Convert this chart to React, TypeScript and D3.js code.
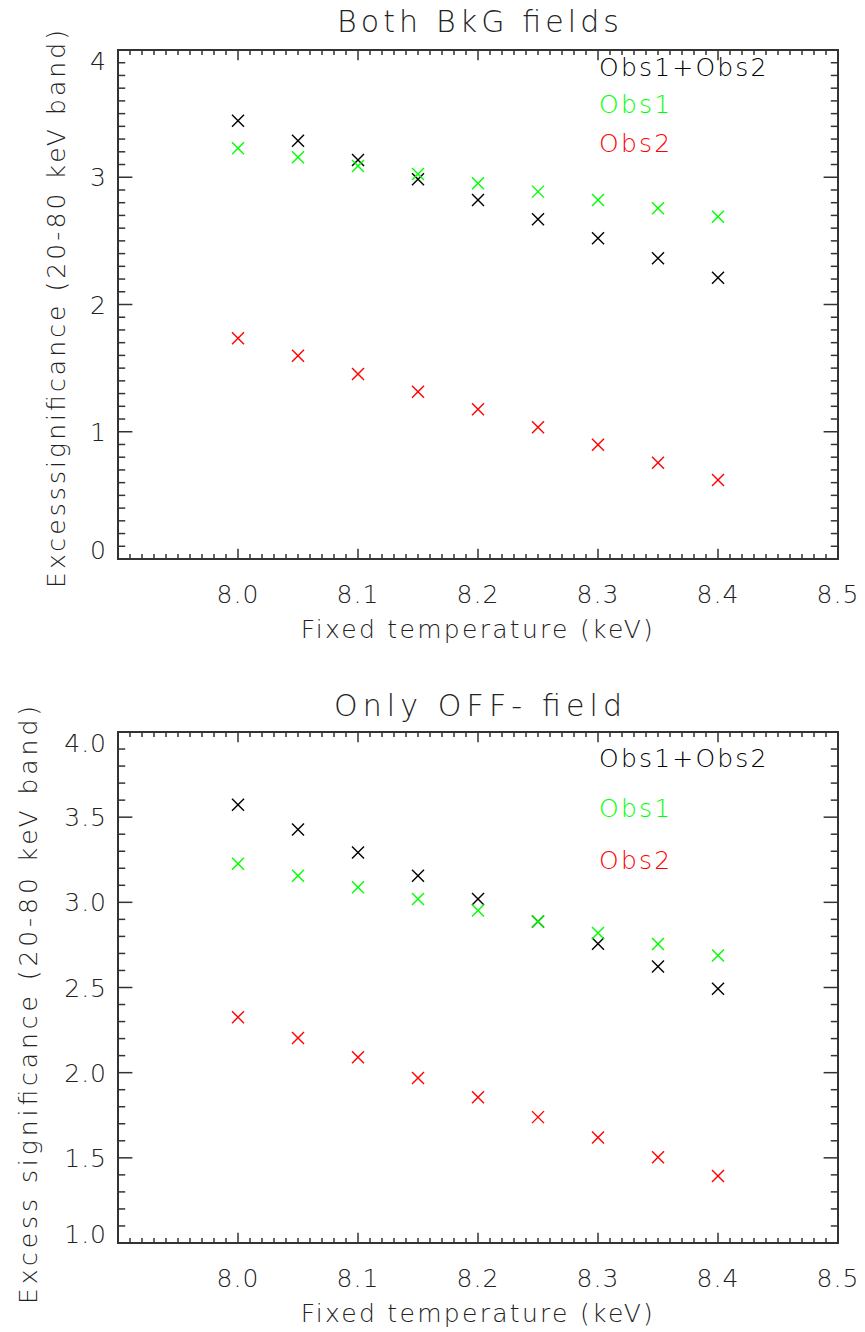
import React from "react";
import * as d3 from "d3";

// Fixed temperatures (keV)
const temps = [8.0, 8.05, 8.1, 8.15, 8.2, 8.25, 8.3, 8.35, 8.4];

// Panel 1: both background fields
const bothSum = [3.444, 3.287, 3.136, 2.984, 2.821, 2.67, 2.52, 2.363, 2.211];
const bothObs1 = [3.227, 3.157, 3.088, 3.026, 2.952, 2.887, 2.821, 2.756, 2.69];
const bothObs2 = [1.734, 1.598, 1.454, 1.315, 1.176, 1.035, 0.898, 0.757, 0.621];

// Panel 2: only OFF- field
const offSum = [3.573, 3.427, 3.293, 3.156, 3.019, 2.888, 2.757, 2.623, 2.492];
const offObs1 = [3.227, 3.156, 3.088, 3.019, 2.952, 2.888, 2.82, 2.755, 2.688];
const offObs2 = [2.326, 2.203, 2.091, 1.968, 1.856, 1.739, 1.619, 1.504, 1.394];

const seriesNames = ["Obs1+Obs2", "Obs1", "Obs2"];
const seriesColors = ["#000000", "#00ff00", "#ff0000"];

const xTicks = [8.0, 8.1, 8.2, 8.3, 8.4, 8.5];
const topYTicks = [0, 1, 2, 3, 4];
const botYTicks = [1.0, 1.5, 2.0, 2.5, 3.0, 3.5, 4.0];

const FONT = "'DejaVu Sans', sans-serif";
const AXIS = "#333";
const TXT = "#222";

interface PanelProps {
  top: number;
  bottom: number;
  title: string;
  titleY: number;
  titleLen: number;
  yTitle: string;
  yTitleX: number;
  yTitleY: number;
  yTitleLen: number;
  yDomain: [number, number];
  yTicks: number[];
  yMinor: number;
  yFmt: (v: number) => string;
  series: number[][];
  legendY: number[];
}

function Panel(p: PanelProps) {
  const left = 118;
  const right = 838;
  const x = d3.scaleLinear().domain([7.9, 8.5]).range([left, right]);
  const y = d3.scaleLinear().domain(p.yDomain).range([p.bottom, p.top]);
  const h = p.bottom - p.top;
  const w = right - left;
  const xMajLen = 0.02 * h;
  const yMajLen = 0.02 * w;

  const xMinor = d3.range(7.9, 8.5 + 1e-9, 0.01);
  const yMinorTicks = d3.range(p.yDomain[0], p.yDomain[1] + 1e-9, p.yMinor);
  const isMajor = (v: number, arr: number[]) => arr.some((t) => Math.abs(t - v) < 1e-6);
  const xMaj = d3.range(7.9, 8.5 + 1e-9, 0.1);

  const ms = 6;
  const cx = (left + right) / 2;

  return (
    <g>
      <text x={cx} y={p.titleY} textAnchor="middle" fontFamily={FONT} fontWeight={200}
        fontSize={30} textLength={p.titleLen} lengthAdjust="spacing" fill={TXT}>{p.title}</text>

      {/* frame */}
      <rect x={left} y={p.top} width={w} height={h} fill="none" stroke={AXIS} strokeWidth={2} />

      {/* x ticks bottom + top */}
      {xMinor.map((v, i) => {
        const len = isMajor(v, xMaj) ? xMajLen : xMajLen / 2;
        const px = x(v);
        return (
          <g key={"xt" + i} stroke={AXIS} strokeWidth={1.5}>
            <line x1={px} x2={px} y1={p.bottom} y2={p.bottom - len} />
            <line x1={px} x2={px} y1={p.top} y2={p.top + len} />
          </g>
        );
      })}
      {/* y ticks left + right */}
      {yMinorTicks.map((v, i) => {
        const len = isMajor(v, p.yTicks) ? yMajLen : yMajLen / 2;
        const py = y(v);
        return (
          <g key={"yt" + i} stroke={AXIS} strokeWidth={1.5}>
            <line x1={left} x2={left + len} y1={py} y2={py} />
            <line x1={right} x2={right - len} y1={py} y2={py} />
          </g>
        );
      })}

      {/* x tick labels */}
      {xTicks.map((v) => (
        <text key={"xl" + v} x={x(v)} y={p.bottom + 44} textAnchor="middle" fontFamily={FONT}
          fontWeight={200} fontSize={25} letterSpacing={1} fill={TXT}>{v.toFixed(1)}</text>
      ))}
      <text x={cx} y={p.bottom + 79} textAnchor="middle" fontFamily={FONT} fontWeight={200}
        fontSize={25} letterSpacing={2.3} fill={TXT}>Fixed temperature (keV)</text>

      {/* y tick labels */}
      {p.yTicks.map((v, i) => {
        const off = i === 0 ? 0 : i === p.yTicks.length - 1 ? 20 : 9;
        return (
          <text key={"yl" + v} x={107} y={y(v) + off} textAnchor="end" fontFamily={FONT}
            fontWeight={200} fontSize={25} letterSpacing={1} fill={TXT}>{p.yFmt(v)}</text>
        );
      })}
      <text transform={`translate(${p.yTitleX},${p.yTitleY}) rotate(-90)`} textAnchor="middle"
        fontFamily={FONT} fontWeight={200} fontSize={25} textLength={p.yTitleLen}
        lengthAdjust="spacing" fill={TXT}>{p.yTitle}</text>

      {/* data */}
      {p.series.map((vals, si) => (
        <g key={"s" + si} stroke={seriesColors[si]} strokeWidth={1.4}>
          {vals.map((v, i) => {
            const px = x(temps[i]);
            const py = y(v);
            return (
              <g key={i}>
                <line x1={px - ms} y1={py - ms} x2={px + ms} y2={py + ms} />
                <line x1={px - ms} y1={py + ms} x2={px + ms} y2={py - ms} />
              </g>
            );
          })}
        </g>
      ))}

      {/* legend */}
      {seriesNames.map((n, i) => (
        <text key={"lg" + i} x={599} y={p.legendY[i]} fontFamily={FONT} fontWeight={200}
          fontSize={25} letterSpacing={2.2} fill={seriesColors[i]}>{n}</text>
      ))}
    </g>
  );
}

export default function App() {
  return (
    <svg width={865} height={1332} style={{ position: "absolute", left: 0, top: 0, background: "#fff" }}>
      <rect width={865} height={1332} fill="#fff" />
      <Panel
        top={50}
        bottom={559}
        title="Both BkG fields"
        titleY={32}
        titleLen={282}
        yTitle="Excesssignificance (20-80 keV band)"
        yTitleX={65}
        yTitleY={309}
        yTitleLen={558}
        yDomain={[0, 4]}
        yTicks={topYTicks}
        yMinor={0.1}
        yFmt={(v) => d3.format("d")(v)}
        series={[bothSum, bothObs1, bothObs2]}
        legendY={[76, 113, 152]}
      />
      <Panel
        top={732}
        bottom={1243}
        title="Only OFF- field"
        titleY={716}
        titleLen={288}
        yTitle="Excess significance (20-80 keV band)"
        yTitleX={37}
        yTitleY={1005}
        yTitleLen={598}
        yDomain={[1, 4]}
        yTicks={botYTicks}
        yMinor={0.1}
        yFmt={(v) => v.toFixed(1)}
        series={[offSum, offObs1, offObs2]}
        legendY={[767, 817, 869]}
      />
    </svg>
  );
}
